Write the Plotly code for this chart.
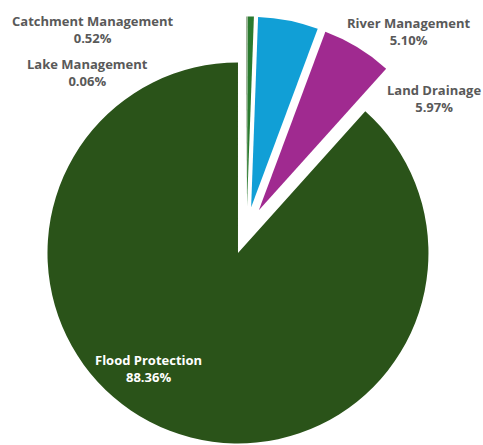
import plotly.graph_objects as go

# Share of spending by programme (%), clockwise from 12 o'clock
categories = ["Lake Management", "Catchment Management", "River Management",
              "Land Drainage", "Flood Protection"]
shares = [0.06, 0.52, 5.10, 5.97, 88.36]
colors = ["#2B5519", "#2A7A2E", "#119FD6", "#A02A90", "#2A5319"]

# Label anchor points in pixels (centre of the two-line label)
label_xy = {
    "Catchment Management": (93, 30),
    "Lake Management": (87, 72),
    "River Management": (408, 31),
    "Land Drainage": (434, 98),
    "Flood Protection": (148, 368),
}

W, H = 483, 445
PULL = 0.125
CX, CY = 246.5, 230.7          # pie centre before slices are pulled out
BOX = 2 * (H - CY)             # square box the pie is fitted into

fig = go.Figure(
    go.Pie(
        labels=categories,
        values=shares,
        sort=False,
        direction="clockwise",
        rotation=0,
        pull=[PULL] * len(shares),
        marker=dict(colors=colors, line=dict(width=0)),
        textinfo="none",
        hoverinfo="label+percent",
        domain=dict(x=[(CX - BOX / 2) / W, (CX + BOX / 2) / W], y=[0, BOX / H]),
        showlegend=False,
    )
)

for name, val in zip(categories, shares):
    x, y = label_xy[name]
    inside = name == "Flood Protection"
    fig.add_annotation(
        x=x / W, y=1 - y / H, xref="paper", yref="paper",
        text=f"{name}<br>{val:.2f}%",
        showarrow=False, align="center",
        xanchor="center", yanchor="middle",
        font=dict(family="Open Sans", size=13, weight="bold",
                  color="#FFFFFF" if inside else "#595959"),
    )

fig.update_layout(
    width=W, height=H,
    margin=dict(l=0, r=0, t=0, b=0),
    paper_bgcolor="white", plot_bgcolor="white",
)

fig.write_html("out.html")
